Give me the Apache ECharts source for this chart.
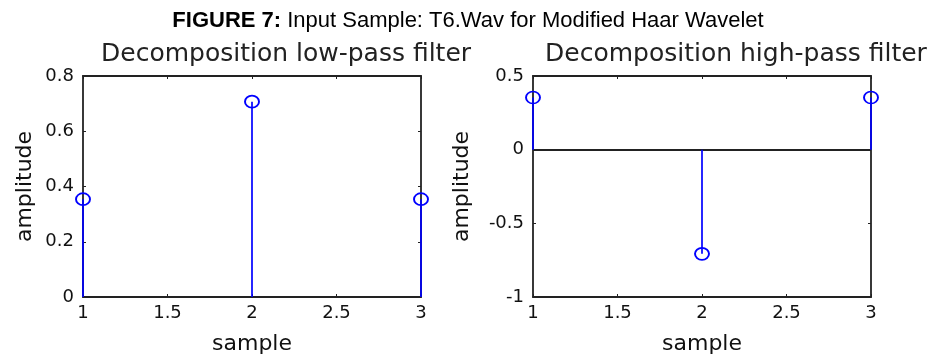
<!DOCTYPE html>
<html><head><meta charset="utf-8">
<script src="https://cdn.jsdelivr.net/npm/echarts@6/dist/echarts.min.js"></script>
<style>html,body{margin:0;padding:0;background:#fff}#c{width:936px;height:360px}</style>
</head><body><div id="c"></div>
<script>
const samples = [1, 2, 3];
const lowPass = [0.354, 0.707, 0.354];
const highPass = [0.354, -0.707, 0.354];
const xTicks = [1, 1.5, 2, 2.5, 3];
const lowTicks = [0, 0.2, 0.4, 0.6, 0.8];
const highTicks = [-1, -0.5, 0, 0.5];

const FONT = 'DejaVu Sans';
const AXC = '#222';
const BLUE = '#0000ff';

function stems(xIdx, yIdx, vals) {
  return {
    type: 'custom', xAxisIndex: xIdx, yAxisIndex: yIdx, z: 5, clip: false,
    data: samples.map((s, i) => [s, vals[i]]),
    renderItem: function (params, api) {
      const p0 = api.coord([api.value(0), 0]);
      const p1 = api.coord([api.value(0), api.value(1)]);
      return { type: 'line', shape: { x1: p0[0], y1: p0[1], x2: p1[0], y2: p1[1] },
        style: { stroke: BLUE, lineWidth: 1.7 } };
    }
  };
}
function markers(xIdx, yIdx, vals) {
  return {
    type: 'scatter', xAxisIndex: xIdx, yAxisIndex: yIdx, z: 6,
    data: samples.map((s, i) => [s, vals[i]]),
    symbol: 'circle', symbolSize: [14, 12],
    itemStyle: { color: 'rgba(255,255,255,0)', borderColor: BLUE, borderWidth: 1.8, opacity: 1 },
    emphasis: { disabled: true }
  };
}
function xAxis(gi) {
  return {
    type: 'value', gridIndex: gi, min: xTicks[0], max: xTicks[xTicks.length - 1], interval: 0.5,
    name: 'sample', nameLocation: 'middle', nameGap: 36,
    nameTextStyle: { fontFamily: FONT, fontSize: 22, color: '#111' },
    axisLine: { show: true, onZero: false, lineStyle: { color: AXC, width: 1.8 } },
    axisTick: { show: true, inside: true, length: 3, lineStyle: { color: AXC } },
    axisLabel: { fontFamily: FONT, fontSize: 18, color: '#111', margin: 7 },
    splitLine: { show: false }
  };
}
function xAxisTop(gi) {
  return {
    type: 'value', gridIndex: gi, position: 'top', min: xTicks[0], max: xTicks[xTicks.length - 1], interval: 0.5,
    axisLine: { show: true, onZero: false, lineStyle: { color: AXC, width: 1.8 } },
    axisTick: { show: true, inside: true, length: 3, lineStyle: { color: AXC } },
    axisLabel: { show: false }, splitLine: { show: false }
  };
}
function yAxis(gi, ticks, interval, gap) {
  return {
    type: 'value', gridIndex: gi, min: ticks[0], max: ticks[ticks.length - 1], interval: interval,
    name: 'amplitude', nameLocation: 'middle', nameGap: gap, nameRotate: 90,
    nameTextStyle: { fontFamily: FONT, fontSize: 22, color: '#111' },
    axisLine: { show: true, onZero: false, lineStyle: { color: AXC, width: 1.8 } },
    axisTick: { show: true, inside: true, length: 3, lineStyle: { color: AXC } },
    axisLabel: { fontFamily: FONT, fontSize: 18, color: '#111', margin: 9 },
    splitLine: { show: false }
  };
}
function yAxisRight(gi, ticks, interval) {
  return {
    type: 'value', gridIndex: gi, position: 'right', min: ticks[0], max: ticks[ticks.length - 1], interval: interval,
    axisLine: { show: true, onZero: false, lineStyle: { color: AXC, width: 1.8 } },
    axisTick: { show: true, inside: true, length: 3, lineStyle: { color: AXC } },
    axisLabel: { show: false }, splitLine: { show: false }
  };
}

const chart = echarts.init(document.getElementById('c'));
const zeroLine = {
  type: 'line', xAxisIndex: 1, yAxisIndex: 2, data: [], z: 4,
  markLine: { silent: true, symbol: 'none', label: { show: false },
    lineStyle: { color: AXC, width: 1.8, type: 'solid' },
    data: [[{ coord: [xTicks[0], 0] }, { coord: [xTicks[xTicks.length - 1], 0] }]] }
};
chart.setOption({
  animation: false,
  backgroundColor: '#fff',
  title: [
    { text: '{b|FIGURE 7:} Input Sample: T6.Wav for Modified Haar Wavelet', left: 'center', top: 5,
      textStyle: { fontFamily: 'Liberation Sans', fontSize: 22, fontWeight: 'normal', color: '#000',
        rich: { b: { fontFamily: 'Liberation Sans', fontSize: 22, fontWeight: 'bold', color: '#000' } } } },
    { text: 'Decomposition low-pass filter', left: 96, top: 37,
      textStyle: { fontFamily: FONT, fontSize: 25, fontWeight: 'normal', color: '#222' } },
    { text: 'Decomposition high-pass filter', left: 540, top: 37,
      textStyle: { fontFamily: FONT, fontSize: 25, fontWeight: 'normal', color: '#222' } }
  ],
  grid: [
    { left: 83, right: 515, top: 76, bottom: 62 },
    { left: 533, right: 65, top: 76, bottom: 62 }
  ],
  xAxis: [xAxis(0), xAxis(1), xAxisTop(0), xAxisTop(1)],
  yAxis: [yAxis(0, lowTicks, 0.2, 47), yAxisRight(0, lowTicks, 0.2), yAxis(1, highTicks, 0.5, 60), yAxisRight(1, highTicks, 0.5)],
  series: [
    zeroLine,
    stems(0, 0, lowPass), markers(0, 0, lowPass),
    stems(1, 2, highPass), markers(1, 2, highPass)
  ]
});
</script></body></html>
